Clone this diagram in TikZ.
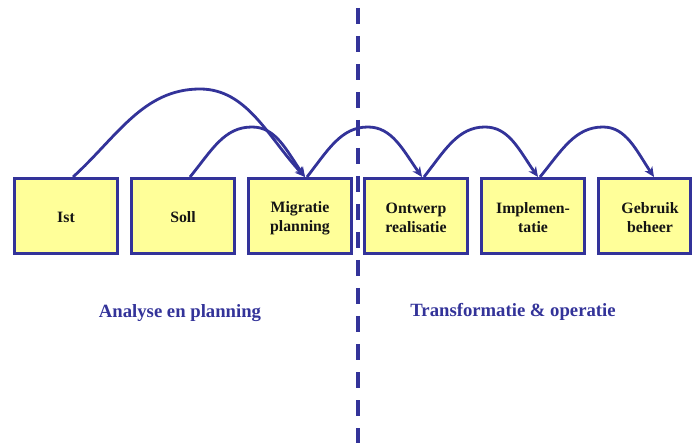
\documentclass[tikz,border=0pt]{standalone}
\usepackage{fontspec}
\setmainfont{Liberation Serif}
\usetikzlibrary{arrows.meta}
\definecolor{frame}{HTML}{333399}
\definecolor{boxfill}{HTML}{FFFF99}
\definecolor{boxtext}{HTML}{141414}
\tikzset{
  phasebox/.style={draw=frame, fill=boxfill, line width=3pt, minimum width=103pt,
    minimum height=75pt, inner sep=0pt, align=center, text=boxtext,
    font=\fontsize{15.8}{19}\selectfont\bfseries},
  boxcaption/.style={align=center, text=boxtext, font=\fontsize{15.8}{19}\selectfont\bfseries},
  hop/.style={draw=frame, line width=2.8pt, -{Stealth[length=10pt,width=9pt,inset=3pt]}},
  divider/.style={draw=frame, line width=4pt, dash pattern=on 16pt off 12pt},
  phaselabel/.style={text=frame, font=\fontsize{18.7}{22}\selectfont\bfseries}
}
\begin{document}
\begin{tikzpicture}[x=1pt, y=-1pt]
  \useasboundingbox (0,0) rectangle (693,443);

  % separator between the two phases
  \coordinate (divtop) at (358,8);
  \coordinate (divbot) at (358,443);
  \draw[divider] (divtop) -- (divbot);

  % process steps
  \node[phasebox] (ist)  at (66,216)  {};
  \node[phasebox] (soll) at (183,216) {};
  \node[phasebox] (mig)  at (300,216) {};
  \node[phasebox] (ont)  at (416,216) {};
  \node[phasebox] (imp)  at (533,216) {};
  \node[phasebox, minimum width=92pt] (geb) at (644.5,216) {};

  \node[boxcaption] (istT)  at (66,217.5)  {Ist};
  \node[boxcaption] (sollT) at (183,217.5) {Soll};
  \node[boxcaption] (migT)  at (300,218)   {Migratie\\planning};
  \node[boxcaption] (ontT)  at (416,218)   {Ontwerp\\realisatie};
  \node[boxcaption] (impT)  at (533,218)   {Implemen-\\tatie};
  \node[boxcaption] (gebT)  at (650,218)   {Gebruik\\beheer};

  % transitions
  \draw[hop] ([xshift=7pt]ist.north) .. controls (117,137) and (143,89) .. (200,89)
     .. controls (247,89) and (268,137) .. ([xshift=5pt]mig.north);
  \draw[hop] ([xshift=7pt]soll.north) .. controls (212,150) and (224,127) .. (252,127)
     .. controls (276,127) and (286,150) .. ([xshift=5pt]mig.north);
  \draw[hop] ([xshift=7pt]mig.north) .. controls (328,150) and (341,127) .. (368,127)
     .. controls (392,127) and (403,150) .. ([xshift=6pt]ont.north);
  \draw[hop] ([xshift=8pt]ont.north) .. controls (445,150) and (458,127) .. (485,127)
     .. controls (509,127) and (519,150) .. ([xshift=5pt]imp.north);
  \draw[hop] ([xshift=7pt]imp.north) .. controls (562,150) and (575,127) .. (603,127)
     .. controls (626,127) and (636,150) .. ([xshift=9.5pt]geb.north);

  % phase captions
  \node[phaselabel] (lblA) at (180,313) {Analyse en planning};
  \node[phaselabel] (lblB) at (513,312) {Transformatie \& operatie};
\end{tikzpicture}
\end{document}
